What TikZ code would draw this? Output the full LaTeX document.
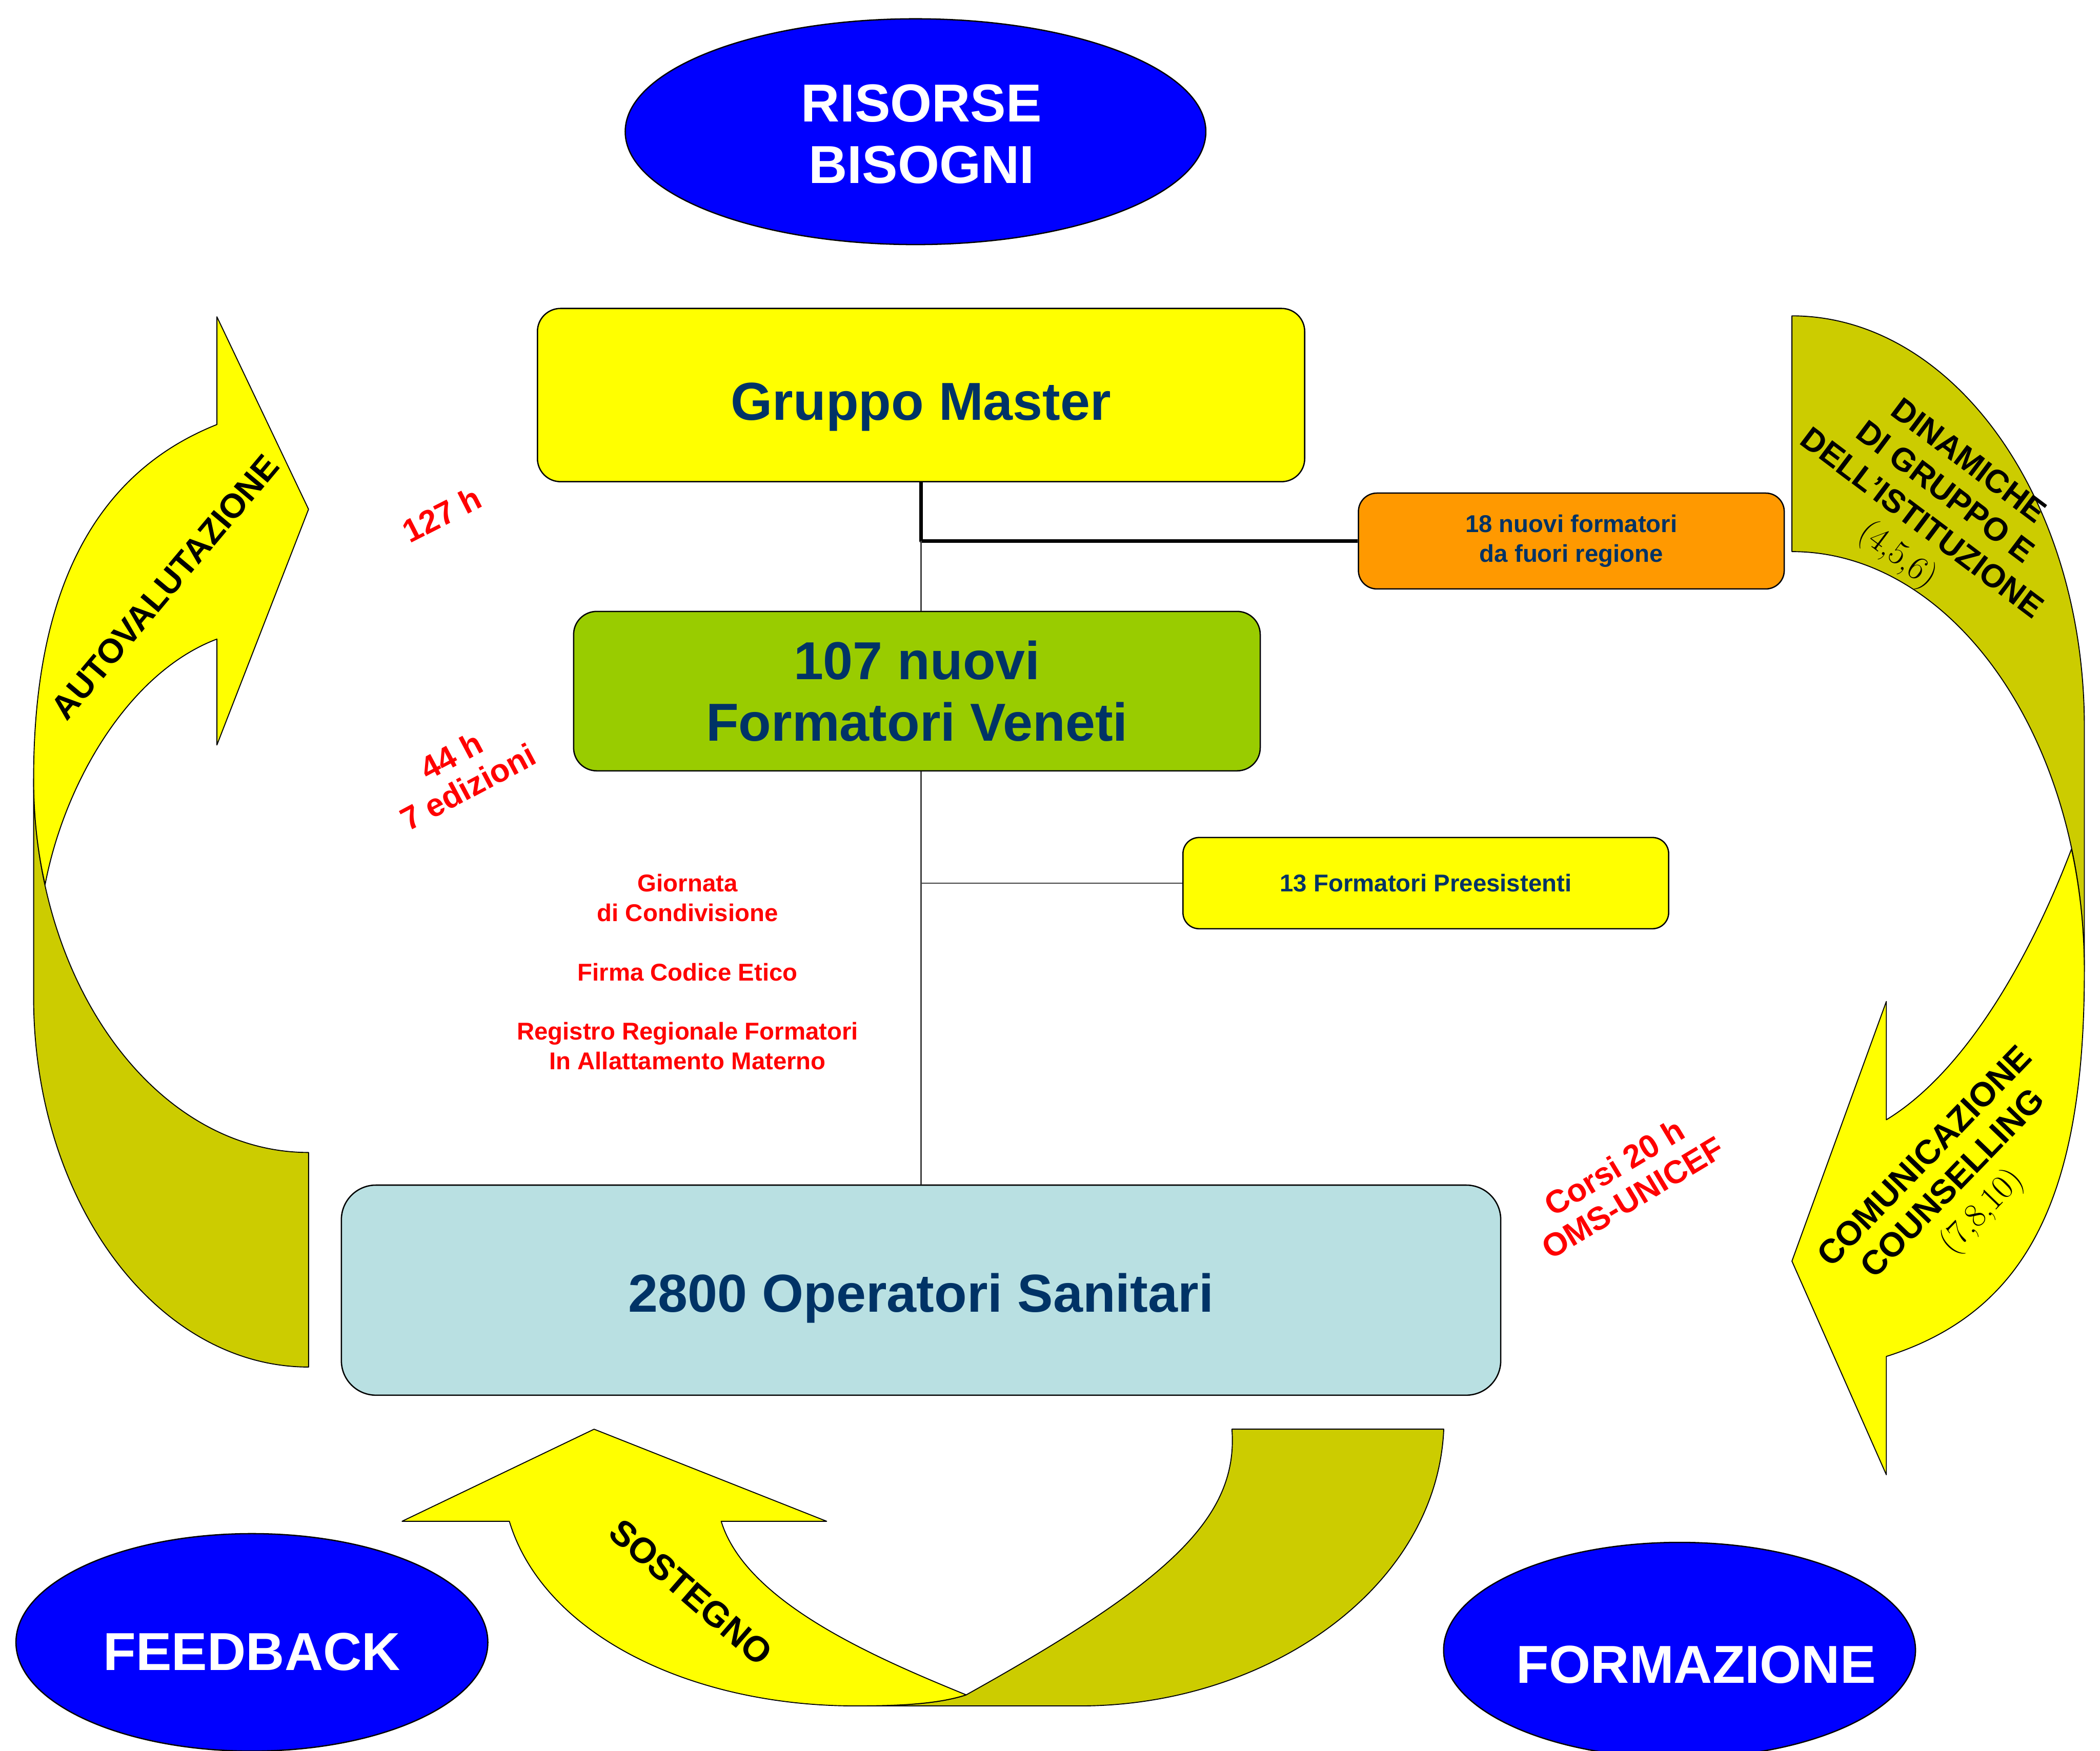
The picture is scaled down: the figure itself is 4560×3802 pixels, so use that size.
\documentclass[tikz,border=0pt]{standalone}
\usepackage{fontspec}
\setsansfont{Liberation Sans}
\usetikzlibrary{shapes.geometric}
\definecolor{blu}{RGB}{0,51,102}
\definecolor{oliva}{RGB}{204,204,0}
\definecolor{giallo}{RGB}{255,255,0}
\definecolor{verde}{RGB}{153,204,0}
\definecolor{arancio}{RGB}{255,153,0}
\definecolor{celeste}{RGB}{185,224,226}
\definecolor{azzurro}{RGB}{0,0,255}
\def\grande{\fontsize{33}{38}\selectfont}
\def\medio{\fontsize{20}{22}\selectfont}
\def\piccolo{\fontsize{15}{18.5}\selectfont}

\begin{document}
\begin{tikzpicture}[x=0.01cm,y=-0.01cm,line join=round,
	riquadro/.style={draw=black,line width=0.8pt,text=blu,align=center,inner sep=0pt,
		font=\sffamily\bfseries\piccolo,rounded corners=0.4cm},
	ovale/.style={ellipse,draw=black,line width=0.8pt,fill=azzurro,inner sep=0pt},
	bianco/.style={text=white,font=\sffamily\bfseries\grande,align=center,inner sep=0pt},
	nota/.style={text=red,font=\sffamily\bfseries\medio,align=center,inner sep=0pt},
	scritta/.style={font=\sffamily\bfseries\fontsize{21}{24}\selectfont,align=center,inner sep=0pt},
	fascia/.style={draw=black,line width=0.6pt}]
\useasboundingbox (0,0) rectangle (4560,3802);

\filldraw[fascia,fill=oliva] (670,2503) -- (670,2969)
	.. controls (340,2969) and (73,2609) .. (73,2166) -- (73,1691)
	.. controls (73,2139) and (340,2503) .. (670,2503) -- cycle;
\filldraw[fascia,fill=giallo] (73,1691) .. controls (73,1220) and (250,1010) .. (471,922)
	-- (471,688) -- (670,1106) -- (471,1618) -- (471,1388)
	.. controls (280,1460) and (140,1700) .. (98,1921)
	.. controls (81,1848) and (73,1770) .. (73,1691) -- cycle;

\filldraw[fascia,fill=oliva] (3891,686) .. controls (4242,686) and (4526,1085) .. (4526,1578)
	-- (4526,2110) .. controls (4526,1606) and (4242,1198) .. (3891,1198) -- cycle;
\filldraw[fascia,fill=giallo] (4526,2110) .. controls (4526,2600) and (4400,2850) .. (4096,2946)
	-- (4096,3203) -- (3891,2739) -- (4096,2175) -- (4096,2432)
	.. controls (4280,2320) and (4420,2050) .. (4498,1844)
	.. controls (4517,1931) and (4526,2019) .. (4526,2110) -- cycle;

\filldraw[fascia,fill=oliva] (2675,3104) -- (3135,3104)
	.. controls (3120,3450) and (2750,3705) .. (2346,3705) -- (1857,3705)
	.. controls (1960,3705) and (2040,3700) .. (2098,3681)
	.. controls (2530,3440) and (2690,3300) .. (2675,3104) -- cycle;
\filldraw[fascia,fill=giallo] (1106,3304) .. controls (1180,3550) and (1500,3705) .. (1857,3705)
	.. controls (1960,3705) and (2040,3700) .. (2098,3681)
	.. controls (1900,3600) and (1620,3480) .. (1566,3304)
	-- (1795,3304) -- (1290,3104) -- (873,3304) -- cycle;

\node[ovale,minimum width=12.6cm,minimum height=4.9cm] (risorse) at (1988,286) {};
\node[bianco] (trisorse) at ([xshift=0.13cm,yshift=-0.05cm]risorse.center) {RISORSE\\BISOGNI};
\node[ovale,minimum width=10.24cm,minimum height=4.72cm] (feedback) at (547,3567) {};
\node[bianco] (tfeedback) at ([yshift=-0.21cm]feedback.center) {FEEDBACK};
\node[ovale,minimum width=10.24cm,minimum height=4.68cm] (formazione) at (3647,3584) {};
\node[bianco] (tformazione) at ([xshift=0.36cm,yshift=-0.31cm]formazione.center) {FORMAZIONE};

\node[riquadro,fill=giallo,minimum width=16.65cm,minimum height=3.76cm,text height=31pt,text depth=0pt,
	font=\sffamily\bfseries\grande,rounded corners=0.5cm] (master) at (2000,858) {Gruppo Master};
\node[riquadro,fill=arancio,minimum width=9.24cm,minimum height=2.08cm] (arancio) at (3412,1175)
	{18 nuovi formatori\\da fuori regione};
\node[riquadro,fill=verde,minimum width=14.9cm,minimum height=3.46cm,
	font=\sffamily\bfseries\grande,rounded corners=0.5cm] (nuovi) at (1991,1501) {107 nuovi\\Formatori Veneti};
\node[riquadro,fill=giallo,minimum width=10.54cm,minimum height=1.98cm,rounded corners=0.35cm]
	(preesistenti) at (3096,1918) {13 Formatori Preesistenti};
\node[riquadro,fill=celeste,minimum width=25.16cm,minimum height=4.56cm,text height=27pt,text depth=0pt,
	font=\sffamily\bfseries\grande,rounded corners=0.75cm] (operatori) at (2000,2802) {2800 Operatori Sanitari};

\coordinate (giunto) at (master.south |- arancio.west);
\draw[line width=2pt] (master.south) -- (giunto) -- (arancio.west);
\draw[black!75,line width=0.7pt] (giunto) -- (giunto |- nuovi.north);
\draw[black!75,line width=0.7pt] (giunto |- nuovi.south) -- (giunto |- operatori.north);
\draw[black!75,line width=0.7pt] (preesistenti.west) -- (preesistenti.west -| giunto);

\node[nota,rotate=27] (ore127) at (959,1117) {127 h};
\node[nota,rotate=28] (ore44) at (998,1675) {44 h\\7 edizioni};
\node[nota,rotate=31] (corsi) at (3525,2568) {Corsi 20 h\\OMS-UNICEF};
\node[nota,font=\sffamily\bfseries\piccolo] (elenco) at (1493,2111)
	{Giornata\\di Condivisione\\[18pt]Firma Codice Etico\\[18pt]Registro Regionale Formatori\\In Allattamento Materno};

\node[scritta,rotate=50] (autovalutazione) at (358,1275) {AUTOVALUTAZIONE};
\node[scritta,rotate=-37,font=\sffamily\bfseries\fontsize{20}{24}\selectfont] (dinamiche) at (4194,1108)
	{DINAMICHE\\DI GRUPPO E\\DELL’ISTITUZIONE\\{\normalfont\fontsize{21}{24}\selectfont (4,5,6)}};
\node[scritta,rotate=46] (comunicazione) at (4245,2575) {COMUNICAZIONE\\COUNSELLING\\{\normalfont (7,8,10)}};
\node[scritta,rotate=-41,font=\sffamily\bfseries\fontsize{22}{24}\selectfont] (sostegno) at (1500,3458) {SOSTEGNO};
\end{tikzpicture}
\end{document}
